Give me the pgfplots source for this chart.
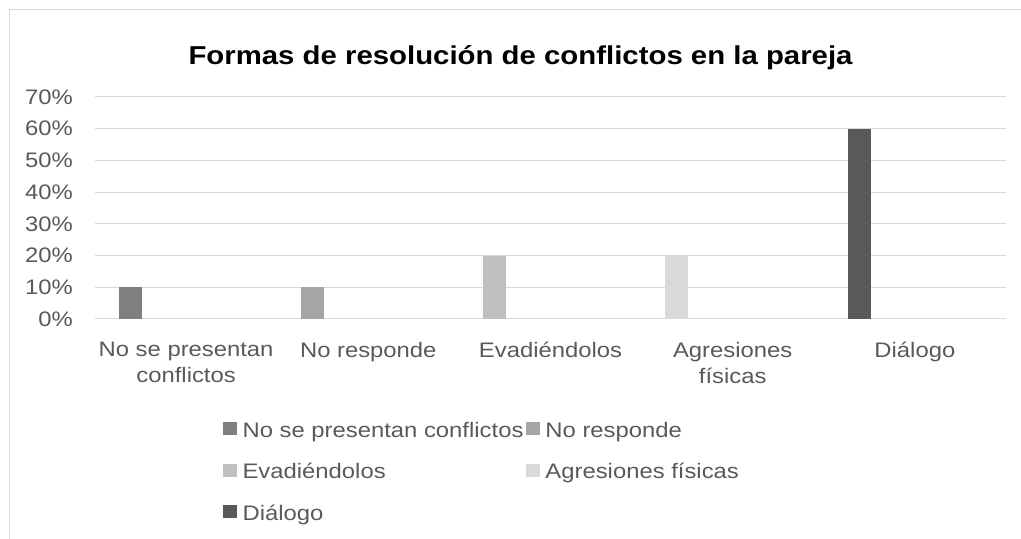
\documentclass[border=0pt]{standalone}
\usepackage{pgfplots}
\pgfplotsset{compat=1.18}
\usepackage{fontspec}
\setmainfont{Liberation Sans}[FakeStretch=1.135]
\definecolor{txt}{HTML}{595959}
\definecolor{gridc}{HTML}{D9D9D9}
\definecolor{cA}{HTML}{7F7F7F}
\definecolor{cB}{HTML}{A5A5A5}
\definecolor{cC}{HTML}{BFBFBF}
\definecolor{cD}{HTML}{D9D9D9}
\definecolor{cE}{HTML}{595959}
\pgfplotsset{
  mybar/.style={ybar, bar width=0.126, bar shift=-0.306, draw=none,
    legend image code/.code={\fill[##1] (0pt,-4.5pt) rectangle (10.5pt,5.25pt);}},
}
\begin{document}
\begin{tikzpicture}
\useasboundingbox (0,0) rectangle (765.75pt,404.25pt);
\draw[gridc, line width=0.75pt] (6.75pt,0) -- (6.75pt,396.75pt) -- (765.75pt,396.75pt);
\node[anchor=base, font=\bfseries\fontsize{19.4}{23}\selectfont, text=black] at (390.4pt,355.5pt) {Formas de resolución de conflictos en la pareja};
\begin{axis}[
  at={(71.25pt,165pt)}, anchor=south west,
  scale only axis, width=683.25pt, height=166.5pt,
  xmin=-0.5, xmax=4.5, ymin=0, ymax=0.7,
  axis line style={draw=none},
  major tick length=0pt,
  ytick={0,0.1,0.2,0.3,0.4,0.5,0.6,0.7},
  yticklabels={0\%,10\%,20\%,30\%,40\%,50\%,60\%,70\%},
  xtick={0,1,2,3,4},
  xticklabels={No se presentan\\conflictos, No responde, Evadiéndolos, Agresiones\\físicas, Diálogo},
  ymajorgrids, grid style={gridc, line width=0.75pt},
  /pgf/number format/assume math mode=true,
  tick label style={font=\fontsize{15.75}{19.5}\selectfont, text=txt},
  yticklabel style={anchor=east, inner sep=0pt, xshift=-16.5pt},
  xticklabel style={anchor=north, align=center, inner sep=0pt, yshift=-17.25pt},
  legend columns=2,
  legend style={at={(0.1405,-0.437)}, anchor=north west, draw=none, fill=none, inner sep=0pt,
    font=\fontsize{15.75}{19.5}\selectfont, text=txt, row sep=12pt,
    /tikz/every odd column/.append style={column sep=2pt},
    /tikz/every even column/.append style={column sep=0pt}},
  legend cell align=left,
]
\addplot[mybar, fill=cA] coordinates {(0,0.10)};
\addlegendentry{\strut No se presentan conflictos}
\addplot[mybar, fill=cB] coordinates {(1,0.10)};
\addlegendentry{\strut No responde}
\addplot[mybar, fill=cC] coordinates {(2,0.20)};
\addlegendentry{\strut Evadiéndolos}
\addplot[mybar, fill=cD] coordinates {(3,0.20)};
\addlegendentry{\strut Agresiones físicas}
\addplot[mybar, fill=cE] coordinates {(4,0.60)};
\addlegendentry{\strut Diálogo}
\end{axis}
\end{tikzpicture}
\end{document}
